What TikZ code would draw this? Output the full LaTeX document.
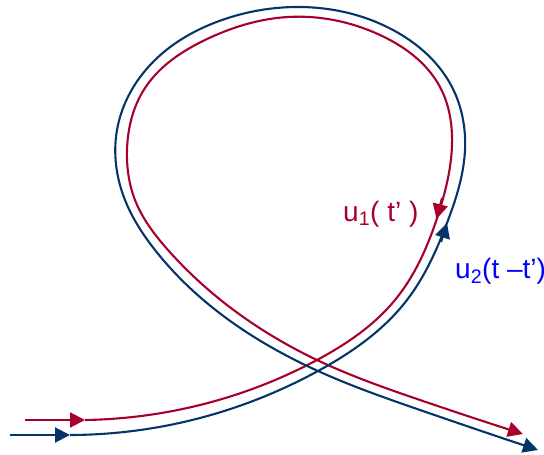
\documentclass[tikz,border=0pt]{standalone}
\usepackage{fontspec}
\setmainfont{Liberation Sans}
\usetikzlibrary{arrows.meta,hobby}
\definecolor{loopred}{HTML}{A6002B}
\definecolor{loopnavy}{HTML}{053468}
\definecolor{labelblue}{HTML}{0000FF}

\begin{document}
\begin{tikzpicture}[
  x=1pt,y=-1pt,
  redline/.style={draw=loopred,line width=2.1pt},
  navyline/.style={draw=loopnavy,line width=2.1pt},
  tip/.style={-{Triangle[length=15pt,width=15pt]}},
  lbl/.style={anchor=base west,inner sep=0pt,font=\fontsize{28}{32}\selectfont}
]
\useasboundingbox (0,0) rectangle (544,455);

% start and end points
\coordinate (r0) at (25,420);
\coordinate (r1) at (85,420);
\coordinate (b0) at (10,435);
\coordinate (b1) at (70,435);

% red loop
\draw[redline,tip] (r0) -- (r1);
\draw[redline,tip,use Hobby shortcut] (r1) .. (200,405) .. (317,360)
  .. (395,300) .. (439,212) .. (452,145) .. (440,87) .. (380,35)
  .. (288,17) .. (205,40) .. (145,88) .. (127,150) .. (135,200)
  .. (168,250) .. (317,360) .. (420,400) .. (523,434);
\draw[redline,tip] (442,198) -- (436.5,219);

% navy loop
\draw[navyline,tip] (b0) -- (b1);
\draw[navyline,tip,use Hobby shortcut] (b1) .. (200,418) .. (318,371)
  .. (407,300) .. (447,223) .. (465,150) .. (452,87) .. (393,30)
  .. (295,7) .. (222,20) .. (155,60) .. (117,130) .. (125,200)
  .. (155,250) .. (318,371) .. (420,410) .. (538,450);
\draw[navyline,tip] (441,242) -- (447,223);

% labels
\node[lbl,text=loopred] (u1) at (343,221) {u\textsubscript{1}( t’ )};
\node[lbl,text=labelblue] (u2) at (455,278) {u\textsubscript{2}(t –t’)};
\end{tikzpicture}
\end{document}
